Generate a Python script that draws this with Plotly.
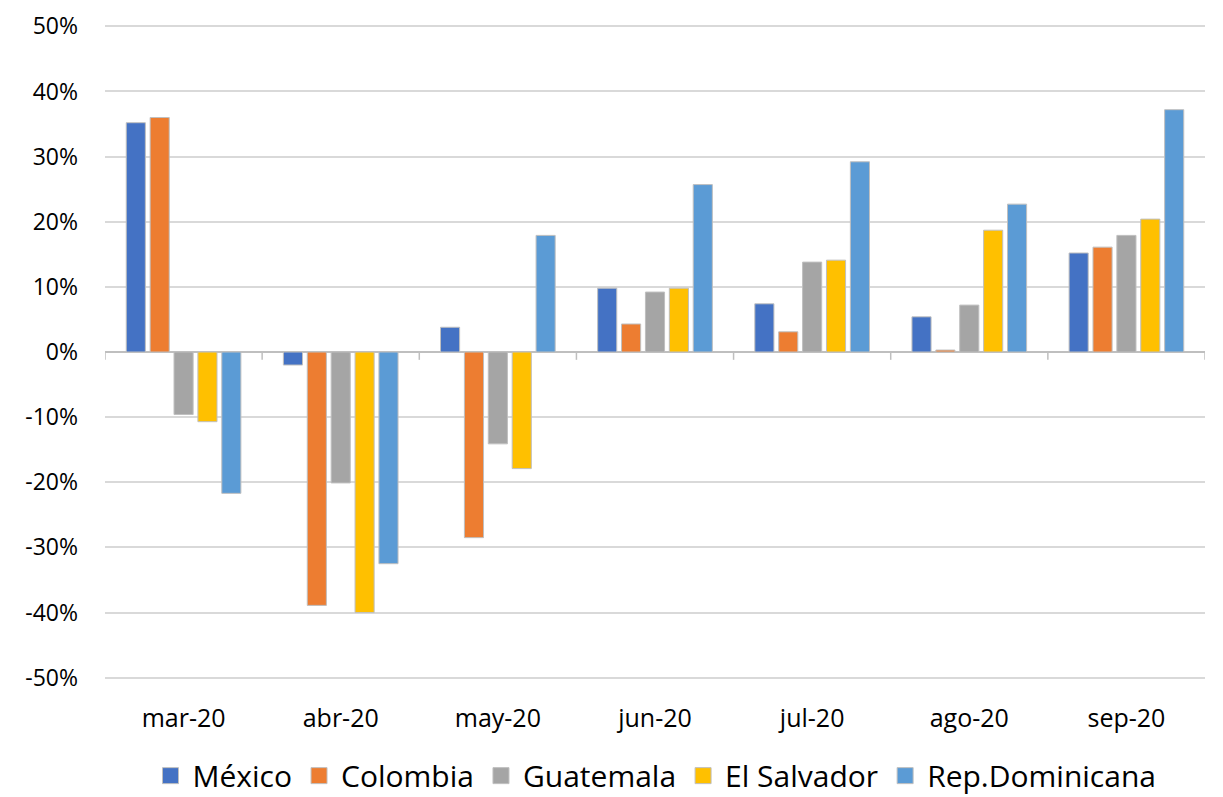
import plotly.graph_objects as go

months = ["mar-20", "abr-20", "may-20", "jun-20", "jul-20", "ago-20", "sep-20"]
mexico = [35.2, -2.0, 3.8, 9.8, 7.4, 5.4, 15.2]
colombia = [36.0, -38.9, -28.5, 4.3, 3.1, 0.3, 16.1]
guatemala = [-9.6, -20.1, -14.1, 9.2, 13.8, 7.2, 17.9]
el_salvador = [-10.7, -40.0, -17.9, 9.8, 14.1, 18.7, 20.4]
rep_dominicana = [-21.7, -32.5, 17.9, 25.7, 29.2, 22.7, 37.2]

y_ticks = [-50, -40, -30, -20, -10, 0, 10, 20, 30, 40, 50]
y_labels = ["-50%", "-40%", "-30%", "-20%", "-10%", "0%", "10%", "20%", "30%", "40%", "50%"]

series = [
    ("México", mexico, "#4472C4"),
    ("Colombia", colombia, "#ED7D31"),
    ("Guatemala", guatemala, "#A5A5A5"),
    ("El Salvador", el_salvador, "#FFC000"),
    ("Rep.Dominicana", rep_dominicana, "#5B9BD5"),
]

fig = go.Figure()
for name, vals, color in series:
    fig.add_trace(go.Bar(
        x=months, y=vals, name=name, showlegend=False,
        marker=dict(color=color, line=dict(color="#BFBFBF", width=1)),
    ))
# legend entries with bigger square swatches
for name, vals, color in series:
    fig.add_trace(go.Scatter(
        x=[None], y=[None], name=name, mode="markers",
        marker=dict(symbol="square", size=16, color=color, line=dict(color="#BFBFBF", width=1)),
    ))

# small tick marks on the zero line at category boundaries
for i in range(len(months) + 1):
    fig.add_shape(type="line", xref="x", yref="y",
                  x0=i - 0.5, x1=i - 0.5, y0=0, y1=-1.2,
                  line=dict(color="#BFBFBF", width=1.5), layer="below")

fig.update_layout(
    width=1215, height=789,
    plot_bgcolor="white", paper_bgcolor="white",
    font=dict(family="Open Sans, Liberation Sans, sans-serif", color="#000000", size=20),
    barmode="group", bargap=0.24, bargroupgap=0.2,
    margin=dict(l=97, r=18, t=17, b=118, autoexpand=False),
    showlegend=True,
    legend=dict(orientation="h", x=0.5, xanchor="center", y=-0.108, yanchor="top",
                font=dict(size=30), itemwidth=34, traceorder="normal"),
    xaxis=dict(showgrid=False, showline=False, ticks="", tickfont=dict(size=25),
               range=[-0.5, len(months) - 0.5], ticklabelstandoff=22),
    yaxis=dict(range=[-50.2, 50.2], tickvals=y_ticks, ticktext=y_labels, showgrid=True,
               gridcolor="#D9D9D9", gridwidth=1.5, zeroline=True,
               zerolinecolor="#BFBFBF", zerolinewidth=1.5, tickfont=dict(size=23),
               ticklabelstandoff=26, ticklabeloverflow="allow"),
)

fig.write_html("out.html")
